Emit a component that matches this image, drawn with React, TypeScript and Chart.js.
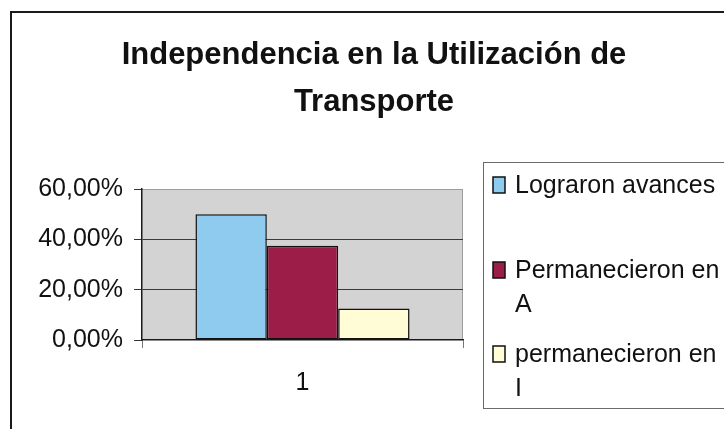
import { useEffect, useRef } from "react";
import { Chart, registerables } from "chart.js";

Chart.register(...registerables);

const categories = ["1"];
const seriesNames = ["Lograron avances", "Permanecieron en A", "permanecieron en I"];
const lograronAvances = [0.5];
const permanecieronA = [0.375];
const permanecieronI = [0.125];
const yTickValues = [0, 0.2, 0.4, 0.6];
const titleLines = ["Independencia en la Utilización de", "Transporte"];
const seriesColors = ["#8fcbef", "#9b1d48", "#fffcd6"];

const FONT = "'Liberation Sans', Arial, Helvetica, sans-serif";

function fmtPct(v: number): string {
  return (v * 100).toFixed(2).replace(".", ",") + "%";
}

function wrap(ctx: CanvasRenderingContext2D, text: string, maxW: number): string[] {
  const words = text.split(" ");
  const lines: string[] = [];
  let cur = "";
  for (const w of words) {
    const test = cur ? cur + " " + w : w;
    if (cur && ctx.measureText(test).width > maxW) {
      lines.push(cur);
      cur = w;
    } else {
      cur = test;
    }
  }
  if (cur) lines.push(cur);
  return lines;
}

const decorPlugin = {
  id: "decor",
  beforeDraw(chart: any) {
    const { ctx, chartArea: a } = chart;
    ctx.save();
    ctx.fillStyle = "#ffffff";
    ctx.fillRect(0, 0, chart.width, chart.height);
    ctx.fillStyle = "#d3d3d3";
    ctx.fillRect(a.left, a.top, a.right - a.left, a.bottom - a.top);
    ctx.strokeStyle = "#9c9c9c";
    ctx.lineWidth = 1;
    ctx.beginPath();
    ctx.moveTo(a.left, a.top + 0.5);
    ctx.lineTo(a.right - 0.5, a.top + 0.5);
    ctx.lineTo(a.right - 0.5, a.bottom);
    ctx.stroke();
    ctx.restore();
  },
  afterDraw(chart: any) {
    const { ctx } = chart;
    ctx.save();
    // outer frame
    ctx.strokeStyle = "#1a1a1a";
    ctx.lineWidth = 2;
    ctx.beginPath();
    ctx.moveTo(11, chart.height);
    ctx.lineTo(11, 12);
    ctx.lineTo(chart.width, 12);
    ctx.stroke();

    // title
    ctx.fillStyle = "#111";
    ctx.font = `bold 31px ${FONT}`;
    ctx.textAlign = "center";
    ctx.textBaseline = "alphabetic";
    const titleBaselines = [64, 111];
    titleLines.forEach((t, i) => ctx.fillText(t, 374, titleBaselines[i]));

    // legend box
    ctx.strokeStyle = "#6a6a6a";
    ctx.lineWidth = 1;
    ctx.strokeRect(483.5, 162.5, 300, 246);

    // legend items
    ctx.font = `25px ${FONT}`;
    ctx.textAlign = "left";
    const itemBaselines = [193, 278, 362];
    const lineH = 34;
    chart.data.datasets.forEach((ds: any, i: number) => {
      const b = itemBaselines[i];
      ctx.fillStyle = ds.backgroundColor;
      ctx.fillRect(493, b - 16, 12, 16);
      ctx.strokeStyle = "#111";
      ctx.lineWidth = 1.5;
      ctx.strokeRect(493, b - 16, 12, 16);
      ctx.fillStyle = "#111";
      const lines = wrap(ctx, ds.label, 212);
      lines.forEach((ln, j) => ctx.fillText(ln, 515, b + j * lineH));
    });
    ctx.restore();
  },
};

export default function App() {
  const ref = useRef<HTMLCanvasElement | null>(null);
  useEffect(() => {
    if (!ref.current) return;
    const seriesValues = [lograronAvances, permanecieronA, permanecieronI];
    const chart = new Chart(ref.current, {
      type: "bar",
      data: {
        labels: categories,
        datasets: seriesNames.map((name, i) => ({
          label: name,
          data: seriesValues[i],
          backgroundColor: seriesColors[i],
          borderColor: "#111111",
          borderWidth: 1.5,
          borderSkipped: false,
          categoryPercentage: 0.667,
          barPercentage: 1,
        })),
      },
      options: {
        responsive: false,
        animation: false,
        devicePixelRatio: 1,
        layout: { padding: { left: 0, top: 189, right: 261, bottom: 0 } },
        plugins: {
          legend: { display: false },
          title: { display: false },
          tooltip: { enabled: false },
        },
        scales: {
          x: {
            grid: {
              display: true,
              drawOnChartArea: false,
              tickLength: 8,
              tickColor: "#777",
            },
            border: { display: true, color: "#1a1a1a", width: 1.5 },
            ticks: {
              color: "#111",
              font: { family: FONT, size: 25 },
              padding: 20,
            },
            afterFit: (s: any) => {
              s.height = 89;
            },
          },
          y: {
            min: 0,
            max: 0.6,
            afterBuildTicks: (s: any) => {
              s.ticks = yTickValues.map((v) => ({ value: v }));
            },
            ticks: {
              color: "#111",
              font: { family: FONT, size: 25 },
              padding: 11,
              callback: (v: any) => fmtPct(Number(v)),
            },
            grid: {
              tickLength: 8,
              tickColor: "#333",
              color: (c: any) =>
                c.tick && c.tick.value === 0.6
                  ? "#9c9c9c"
                  : c.tick && c.tick.value === 0
                  ? "rgba(0,0,0,0)"
                  : "#3a3a3a",
            },
            border: { display: true, color: "#1a1a1a", width: 1.5 },
            afterFit: (s: any) => {
              s.width = 142;
            },
          },
        },
      },
      plugins: [decorPlugin],
    });
    return () => chart.destroy();
  }, []);
  return (
    <canvas
      ref={ref}
      width={724}
      height={429}
      style={{ position: "absolute", left: 0, top: 0, width: 724, height: 429 }}
    />
  );
}
